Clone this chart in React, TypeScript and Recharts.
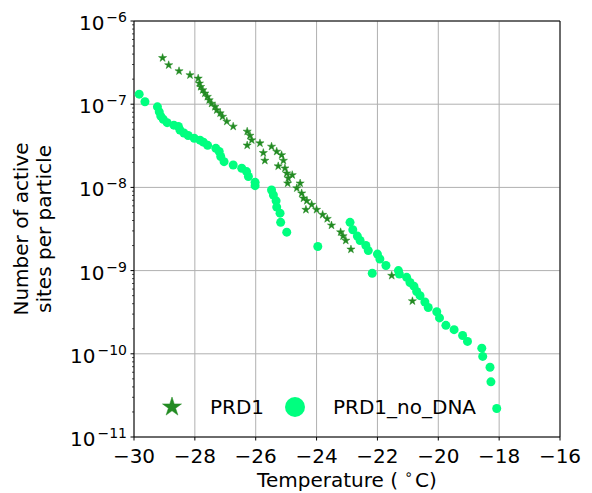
import React from "react";
import {
  ScatterChart,
  Scatter,
  XAxis,
  YAxis,
  CartesianGrid,
  ReferenceLine,
} from "recharts";

// ---- data ----
const prdT = [
  -29.06, -28.86, -28.52, -28.16, -27.89, -27.85, -27.81, -27.74, -27.67, -27.59,
  -27.53, -27.45, -27.34, -27.28, -27.17, -27.09, -26.95, -26.74, -26.28, -26.19,
  -26.13, -26.28, -25.86, -25.75, -25.7, -25.48, -25.31, -25.15, -25.26, -25.09,
  -25.04, -24.98, -24.93, -24.95, -24.8, -24.54, -24.65, -24.49, -24.43, -24.32,
  -24.16, -24.35, -24.0, -23.8, -23.65, -23.51, -23.21, -23.13, -23.04, -22.87,
  -21.53, -20.85,
];
const prdN = [
  3.6e-7, 2.95e-7, 2.5e-7, 2.24e-7, 2.04e-7, 1.78e-7, 1.62e-7, 1.48e-7, 1.35e-7, 1.23e-7,
  1.12e-7, 1.02e-7, 9.3e-8, 8.5e-8, 7.8e-8, 7.1e-8, 6.2e-8, 5.4e-8, 4.7e-8, 4.2e-8,
  3.7e-8, 3.2e-8, 3.4e-8, 2.6e-8, 2.1e-8, 3.1e-8, 2.7e-8, 2.45e-8, 1.8e-8, 2.1e-8,
  1.7e-8, 1.48e-8, 1.29e-8, 1.12e-8, 1.41e-8, 1.12e-8, 9.8e-9, 8.5e-9, 7.4e-9, 6.9e-9,
  6.2e-9, 5.4e-9, 5.4e-9, 4.7e-9, 4.2e-9, 3.5e-9, 2.9e-9, 2.6e-9, 2.3e-9, 1.8e-9,
  8.7e-10, 4.3e-10,
];
const noDnaT = [
  -29.83, -29.64, -29.23, -29.17, -29.12, -29.04, -28.91, -28.69, -28.54, -28.49,
  -28.36, -28.22, -28.02, -27.83, -27.72, -27.58, -27.31, -27.2, -27.15, -27.04,
  -26.74, -26.46, -26.3, -26.24, -26.02, -26.02, -25.48, -25.42, -25.33, -25.31,
  -25.2, -25.18, -24.98, -23.96, -22.9, -22.81, -22.66, -22.57, -22.38, -22.3,
  -22.0, -21.92, -21.72, -22.17, -21.31, -21.28, -21.04, -20.93, -20.8, -20.71,
  -20.6, -20.44, -20.33, -20.05, -19.96, -19.75, -19.48, -19.2, -19.04, -18.57,
  -18.54, -18.3, -18.27, -18.08,
];
const noDnaN = [
  1.32e-7, 1.07e-7, 9.3e-8, 8.1e-8, 7.2e-8, 6.6e-8, 6.0e-8, 5.6e-8, 5.4e-8, 4.9e-8,
  4.5e-8, 4.2e-8, 3.9e-8, 3.7e-8, 3.5e-8, 3.2e-8, 2.95e-8, 2.7e-8, 2.35e-8, 2.04e-8,
  1.86e-8, 1.7e-8, 1.55e-8, 1.35e-8, 1.15e-8, 1.05e-8, 9.3e-9, 8.1e-9, 6.9e-9, 5.8e-9,
  4.9e-9, 3.8e-9, 2.9e-9, 1.95e-9, 3.8e-9, 3.1e-9, 2.6e-9, 2.3e-9, 2.0e-9, 1.74e-9,
  1.58e-9, 1.38e-9, 1.15e-9, 9.3e-10, 1.0e-9, 9.1e-10, 8.3e-10, 7.2e-10, 6.5e-10, 5.6e-10,
  5.0e-10, 4.2e-10, 3.6e-10, 3.2e-10, 2.7e-10, 2.2e-10, 1.95e-10, 1.66e-10, 1.41e-10, 1.17e-10,
  9.3e-11, 6.9e-11, 4.6e-11, 2.2e-11,
];
const xTicks = [-30, -28, -26, -24, -22, -20, -18, -16];
const yMajor = [1e-11, 1e-10, 1e-9, 1e-8, 1e-7, 1e-6];
const yMinor: number[] = [];
for (let e = -11; e < -6; e++) {
  for (let m = 2; m <= 9; m++) yMinor.push(m * Math.pow(10, e));
}
const seriesNames = ["PRD1", "PRD1_no_DNA"];

const prdData = prdT.map((t, i) => ({ t, n: prdN[i] }));
const noDnaData = noDnaT.map((t, i) => ({ t, n: noDnaN[i] }));

const FONT = "DejaVu Sans";
const STAR = "#228B22";
const CIRC = "#00FF7F";

function starPath(cx: number, cy: number, R: number) {
  const r = R * 0.382;
  let d = "";
  for (let i = 0; i < 10; i++) {
    const a = ((-90 + i * 36) * Math.PI) / 180;
    const rad = i % 2 === 0 ? R : r;
    const px = cx + rad * Math.cos(a);
    const py = cy + rad * Math.sin(a);
    d += (i === 0 ? "M" : "L") + px.toFixed(2) + "," + py.toFixed(2);
  }
  return d + "Z";
}

const StarShape = (props: any) => {
  const { cx, cy } = props;
  if (cx == null || cy == null) return <g />;
  return <path d={starPath(cx, cy, 4.3)} fill={STAR} stroke={STAR} strokeWidth={0.5} />;
};
const CircleShape = (props: any) => {
  const { cx, cy } = props;
  if (cx == null || cy == null) return <g />;
  return <circle cx={cx} cy={cy} r={4.5} fill={CIRC} />;
};

const fmtX = (v: number) => (v < 0 ? "\u2212" + Math.abs(v) : String(v));

const YTick = (props: any) => {
  const { x, y, payload } = props;
  const v = payload.value;
  const exp = Math.round(Math.log10(v));
  const isMajor = Math.abs(v - Math.pow(10, exp)) / Math.pow(10, exp) < 1e-6;
  if (!isMajor) {
    return <line x1={x - 2} x2={x} y1={y} y2={y} stroke="#000" strokeWidth={0.7} />;
  }
  return (
    <g>
      <line x1={x - 3.5} x2={x} y1={y} y2={y} stroke="#000" strokeWidth={1} />
      <text x={x - 7} y={y + 9} textAnchor="end" fontFamily={FONT} fontSize={20} fill="#000">
        <tspan>10</tspan>
        <tspan dy={-8} dx={2} fontSize={14}>
          {"\u2212" + Math.abs(exp)}
        </tspan>
      </text>
    </g>
  );
};

const YTitle = (props: any) => {
  const vb = props.viewBox || { x: 0, y: 13, width: 126, height: 416 };
  const cy = vb.y + vb.height / 2;
  const x1 = 20;
  const x2 = 43;
  return (
    <g fontFamily={FONT} fontSize={20} fill="#000">
      <text x={x1} y={cy} textAnchor="middle" transform={`rotate(-90 ${x1} ${cy})`}>
        Number of active
      </text>
      <text x={x2} y={cy} textAnchor="middle" transform={`rotate(-90 ${x2} ${cy})`}>
        sites per particle
      </text>
    </g>
  );
};

const XTitleLegend = (props: any) => {
  const vb = props.viewBox || { x: 126, y: 429, width: 426, height: 56 };
  const cx = vb.x + vb.width / 2;
  const axisY = vb.y;
  const ly = axisY - 30;
  const lx = vb.x;
  return (
    <g fontFamily={FONT} fill="#000">
      <text x={cx} y={axisY + 50} textAnchor="middle" fontSize={20}>
        <tspan>Temperature ( </tspan>
        <tspan dy={-8} fontSize={14}>
          {"\u2218"}
        </tspan>
        <tspan dy={8} dx={2}>
          C)
        </tspan>
      </text>
      <path d={starPath(lx + 38, ly, 10)} fill={STAR} stroke={STAR} strokeWidth={0.5} />
      <text x={lx + 76} y={ly + 7} fontSize={20}>
        {seriesNames[0]}
      </text>
      <circle cx={lx + 161} cy={ly} r={10} fill={CIRC} />
      <text x={lx + 199} y={ly + 7} fontSize={20}>
        {seriesNames[1]}
      </text>
    </g>
  );
};

export default function App() {
  return (
    <div style={{ width: 584, height: 485, fontFamily: FONT }}>
      <ScatterChart
        width={584}
        height={485}
        margin={{ top: 13, right: 32, bottom: 0, left: 0 }}
      >
        <CartesianGrid
          stroke="#b0b0b0"
          strokeWidth={1}
          horizontalValues={yMajor}
          verticalValues={xTicks}
        />
        <XAxis
          type="number"
          dataKey="t"
          domain={[-30, -16]}
          ticks={xTicks}
          allowDataOverflow
          height={56}
          tickFormatter={fmtX}
          tickSize={3.5}
          tickMargin={8}
          tick={{ fontSize: 20, fill: "#000", fontFamily: FONT }}
          tickLine={{ stroke: "#000", strokeWidth: 1 }}
          axisLine={{ stroke: "#000", strokeWidth: 1 }}
          label={XTitleLegend}
        />
        <YAxis
          type="number"
          dataKey="n"
          scale="log"
          domain={[1e-11, 1e-6]}
          allowDataOverflow
          ticks={[...yMajor, ...yMinor]}
          interval={0}
          width={126}
          tickSize={0}
          tickMargin={0}
          tickLine={false}
          tick={YTick}
          axisLine={{ stroke: "#000", strokeWidth: 1 }}
          label={YTitle}
        />
        <Scatter
          name={seriesNames[0]}
          data={prdData}
          shape={StarShape}
          isAnimationActive={false}
        />
        <Scatter
          name={seriesNames[1]}
          data={noDnaData}
          shape={CircleShape}
          isAnimationActive={false}
        />
        <ReferenceLine y={1e-6} stroke="#000" strokeWidth={1} />
        <ReferenceLine x={-16} stroke="#000" strokeWidth={1} />
      </ScatterChart>
    </div>
  );
}
